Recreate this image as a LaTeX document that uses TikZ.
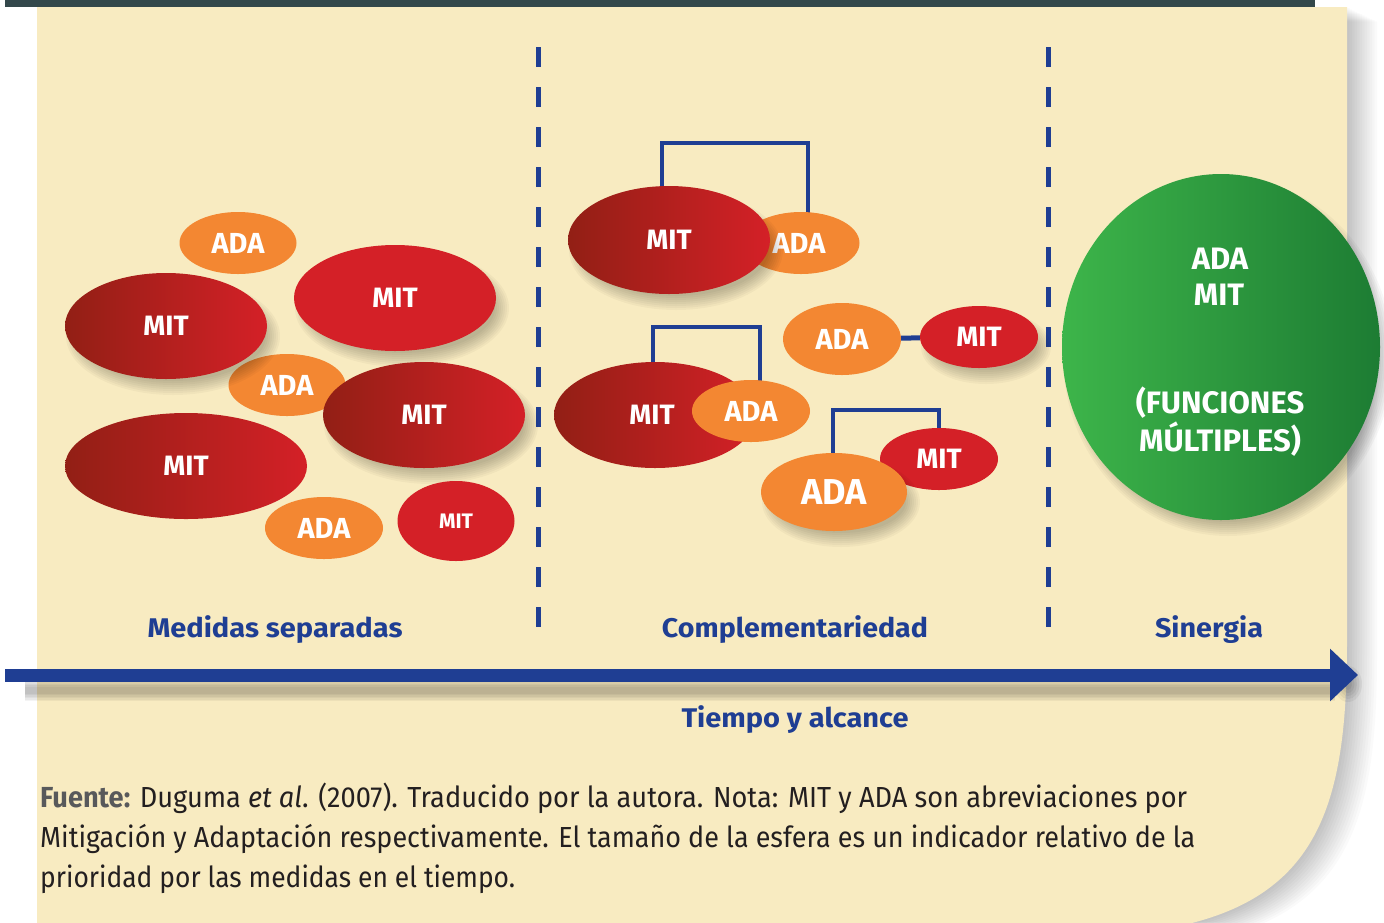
\documentclass[tikz,border=0pt]{standalone}
\usepackage{fontspec}
\setmainfont{Fira Sans}
\usetikzlibrary{shapes.geometric,arrows.meta,calc}
\definecolor{cream}{HTML}{F8EBC1}
\definecolor{topbar}{HTML}{33484B}
\definecolor{bl}{HTML}{1F3E93}
\definecolor{ora}{HTML}{F38732}
\definecolor{mred}{HTML}{D42027}
\definecolor{mdark}{HTML}{921F15}
\definecolor{gl}{HTML}{3DB54A}
\definecolor{gd}{HTML}{1D7C33}
\definecolor{captxt}{HTML}{231F20}
\definecolor{capgray}{HTML}{58595B}
\pgfdeclarelayer{panel}\pgfdeclarelayer{brk}\pgfsetlayers{panel,brk,main}
\newcommand\fsz[1]{\fontsize{#1}{#1}\selectfont}
\newcommand\shadowE[4]{\foreach \k in {0,...,7}{\fill[black,opacity=0.03] (#1+7,#2+10) ellipse ({#3+6-2*\k} and {#4+6-2*\k});}}
\begin{document}
\begin{tikzpicture}[x=1pt,y=-1pt,
  ell/.style={ellipse, inner sep=0pt, text=white, font=\bfseries\fsz{28}},
  ada/.style={ell, fill=ora, font=\bfseries\fsz{29}},
  mit/.style={ell, fill=mred},
  mitg/.style={ell, left color=mdark, right color=mred},
  br/.style={draw=bl, line width=4.8pt},
  lab/.style={text=bl, font=\bfseries\fsz{27}, inner sep=0pt, anchor=base},
  gtxt/.style={text=white, font=\bfseries\fsz{31}, inner sep=0pt, anchor=base},
  dsh/.style={draw=bl, line width=5pt, dash pattern=on 20pt off 20pt},
  captionline/.style={text=captxt, font=\fsz{29}, inner sep=0pt, anchor=base west}]
\useasboundingbox (0,0) rectangle (1384,922);
\begin{pgfonlayer}{panel}
\fill[white] (0,0) rectangle (1384,922);
\foreach \k in {1,...,12}{
  \fill[black,opacity=0.018,shift={(\k*2.5,\k*1.2)}] (37,7) -- (1347,7) -- (1347,640) .. controls (1347,820) and (1315,922) .. (1110,935) -- (37,935) -- cycle;}
\fill[cream] (37,7) -- (1347,7) -- (1347,640) .. controls (1347,820) and (1315,922) .. (1110,935) -- (37,935) -- cycle;
\fill[topbar] (5,0) rectangle (1315,6.5);
\end{pgfonlayer}

% dashed separators
\coordinate (d1t) at (538,47); \coordinate (d1b) at (538,630);
\coordinate (d2t) at (1048,47); \coordinate (d2b) at (1048,630);
\draw[dsh] (d1t) -- (d1b);
\draw[dsh] (d2t) -- (d2b);

% left group
\node[ada, minimum width=117pt, minimum height=62pt] (a1) at (238,243) {ADA};
\node[ada, minimum width=117pt, minimum height=62pt] (a4) at (287,385) {ADA};
\shadowE{166}{326}{101}{53}
\node[mitg, minimum width=202pt, minimum height=106pt] (m2) at (166,326) {MIT};
\shadowE{395}{298}{101}{53}
\node[mit, minimum width=202pt, minimum height=106pt] (m3) at (395,298) {MIT};
\shadowE{424}{415}{101}{53}
\node[mitg, minimum width=202pt, minimum height=106pt] (m5) at (424,415) {MIT};
\node[mitg, minimum width=242pt, minimum height=106pt] (m6) at (186,466) {MIT};
\node[ada, minimum width=118pt, minimum height=62pt] (a7) at (324,528) {ADA};
\node[mit, minimum width=117pt, minimum height=80pt, font=\bfseries\fsz{21}] (m8) at (456,521) {MIT};

% middle group
\node[ada, minimum width=117pt, minimum height=62pt] (a10) at (801,243) {\hspace*{-4pt}ADA};
\shadowE{669}{240}{101}{54}
\node[mitg, minimum width=202pt, minimum height=108pt] (m9) at (669,240) {MIT};
\node[ada, minimum width=118pt, minimum height=72pt] (a11) at (842,339) {ADA};
\shadowE{979}{337}{59}{31}
\node[mit, minimum width=118pt, minimum height=62pt] (m12) at (979,337) {MIT};
\node[mitg, minimum width=202pt, minimum height=106pt] (m13) at (655,415) {\hspace*{-6pt}MIT};
\node[ada, minimum width=118pt, minimum height=62pt] (a14) at (751,411) {ADA};
\node[mit, minimum width=118pt, minimum height=62pt] (m15) at (939,459) {MIT};
\shadowE{834}{492}{73}{39}
\node[ada, minimum width=146pt, minimum height=78pt, font=\bfseries\fsz{36}] (a16) at (834,492) {ADA};

\begin{pgfonlayer}{brk}
\draw[br] ([xshift=-7pt]m9.center) -- ++(0,-97) -| ([xshift=7pt]a10.center);
\draw[br] ([xshift=-2pt]m13.center) -- ++(0,-88) -| ([xshift=9pt]a14.center);
\draw[br] ([xshift=-1pt]a16.center) -- ++(0,-82) -| (m15.center);
\draw[br, line width=5pt] (a11) -- (m12);
\end{pgfonlayer}

% synergy
\shadowE{1221}{347}{159}{173}
\node[ellipse, inner sep=0pt, minimum width=318pt, minimum height=346pt, left color=gl, right color=gd] (g) at (1221,347) {};
\node[gtxt] (g1) at (1220,269) {ADA};
\node[gtxt] (g2) at (1219,305) {MIT};
\node[gtxt] (g3) at (1220,413) {(FUNCIONES};
\node[gtxt] (g4) at (1220,451) {MÚLTIPLES)};

% labels
\node[lab] (l1) at (275,637) {\resizebox{255pt}{\height}{Medidas separadas}};
\node[lab] (l2) at (795,637) {\resizebox{266pt}{\height}{Complementariedad}};
\node[lab] (l3) at (1209,637) {\resizebox{108pt}{\height}{Sinergia}};

% arrow
\foreach \k in {0,...,5}{\draw[black, opacity=0.045, line width={22-3*\k}] (25,690) -- (1335,690);}
\foreach \k in {0,...,4}{\fill[black, opacity=0.05] (1348,684) ellipse ({14-2.5*\k} and {18-3*\k});}
\coordinate (a0) at (5,675); \coordinate (aend) at (1358,675);
\draw[bl, line width=13pt, -{Triangle[length=28pt, width=51pt]}] (a0) -- (aend);
\node[lab] (l4) at (795,727) {\resizebox{227pt}{\height}{Tiempo y alcance}};

% caption
\node[captionline] (c1) at (40,807) {\resizebox{1147pt}{\height}{\textcolor{capgray}{\bfseries Fuente:} Duguma \textit{et al}. (2007). Traducido por la autora. Nota: MIT y ADA son abreviaciones por}};
\node[captionline] (c2) at (40,847) {\resizebox{1155pt}{\height}{Mitigación y Adaptación respectivamente. El tamaño de la esfera es un indicador relativo de la}};
\node[captionline] (c3) at (40,887) {\resizebox{475pt}{\height}{prioridad por las medidas en el tiempo.}};
\end{tikzpicture}
\end{document}
